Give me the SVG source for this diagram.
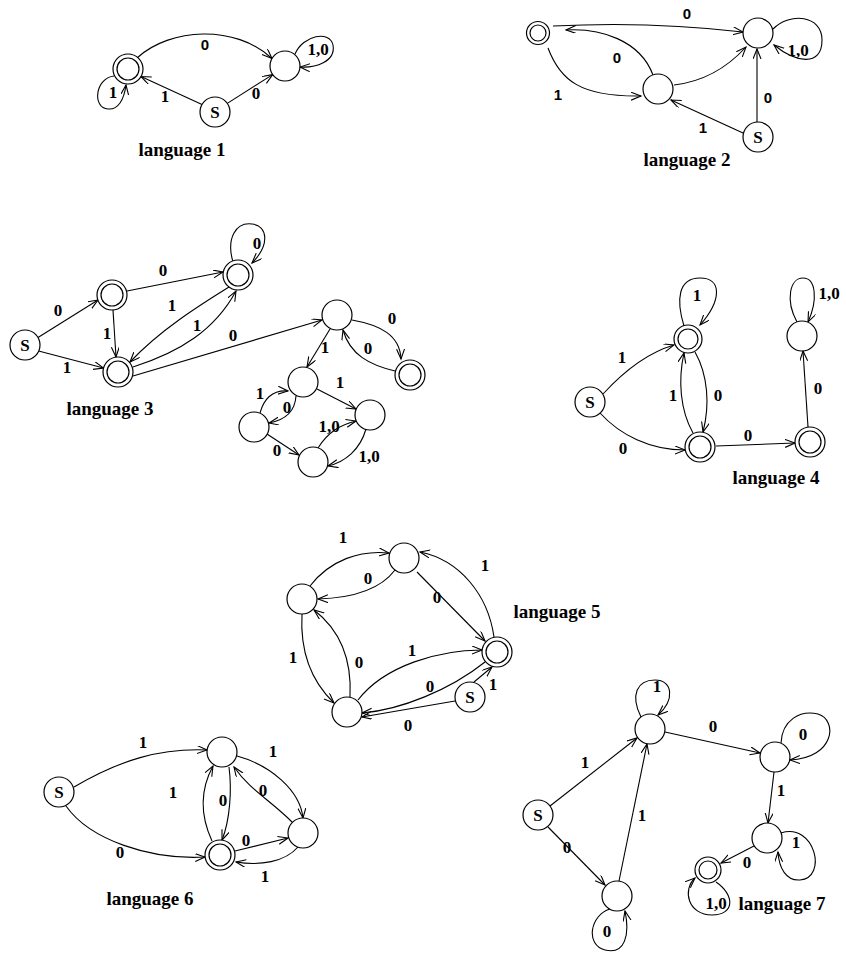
<svg xmlns="http://www.w3.org/2000/svg" width="846" height="954" viewBox="0 0 846 954">
<style>
.n{fill:#fff;stroke:#000;stroke-width:1.2}
.e{fill:none;stroke:#000;stroke-width:1.1;marker-end:url(#ah)}
.t{font-family:"Liberation Serif","Times New Roman",serif;font-weight:bold;font-size:17px;text-anchor:middle;fill:#000}
.s{font-family:"Liberation Sans",Arial,sans-serif;font-weight:bold;font-size:15px;text-anchor:middle;fill:#000}
.ti{font-family:"Liberation Serif","Times New Roman",serif;font-weight:bold;font-size:19px;text-anchor:middle;fill:#000}
</style>
<defs>
<marker id="ah" markerWidth="12" markerHeight="10" refX="10" refY="4" orient="auto" markerUnits="userSpaceOnUse"><path d="M0,0 L10,4 L0,8" fill="none" stroke="#000" stroke-width="1.1"/></marker>
</defs>
<rect width="846" height="954" fill="#fff"/>

<!-- ===== language 1 ===== -->
<g id="edges1">
<path class="e" d="M137.6,57.5 C170,28 235,24 272,58.5"/>
<path class="e" d="M202,104.5 L141,76.5"/>
<path class="e" d="M227.3,103.4 L272.7,74.6"/>
<path class="e" d="M114,76 C95,78 92,108 108,109 C118,110 124,100 126,85"/>
<path class="e" d="M295,54 C303,35 330,30 333,45 C336,62 315,68 300,67"/>
<text class="s" x="205" y="50">0</text>
<text class="t" x="165" y="102">1</text>
<text class="t" x="256" y="99">0</text>
<text class="t" x="113" y="98">1</text>
<text class="t" x="318" y="55">1,0</text>
</g>
<g id="l1_acc"><circle class="n" cx="128" cy="69" r="15"/><circle class="n" cx="128" cy="69" r="11"/></g>
<g id="l1_sink"><circle class="n" cx="285" cy="66" r="15"/></g>
<g id="l1_start"><circle class="n" cx="215" cy="112" r="15"/><text class="t" x="215" y="118">S</text></g>
<text class="ti" x="182" y="156">language 1</text>

<!-- ===== language 2 ===== -->
<g id="edges2">
<path class="e" d="M553,26 Q650,21 743,32"/>
<path class="e" d="M653,75 C640,40 600,28 566,30"/>
<path class="e" d="M548,48 C560,80 580,97 641,96"/>
<path class="e" d="M674,85 C700,82 725,70 746,47"/>
<path class="e" d="M757,122 L757,49"/>
<path class="e" d="M743,133 L671,100"/>
<path class="e" d="M773,29 C790,12 822,15 822,40 C822,68 795,62 774,45"/>
<text class="s" x="687" y="19">0</text>
<text class="s" x="617" y="63">0</text>
<text class="s" x="558" y="100">1</text>
<text class="s" x="768" y="103">0</text>
<text class="s" x="703" y="133">1</text>
<text class="t" x="798" y="56">1,0</text>
</g>
<g id="l2_acc"><circle class="n" cx="538" cy="33" r="11.5"/><circle class="n" cx="538" cy="33" r="8"/></g>
<g id="l2_sink"><circle class="n" cx="758" cy="33" r="15"/></g>
<g id="l2_mid"><circle class="n" cx="658" cy="89" r="15"/></g>
<g id="l2_start"><circle class="n" cx="758" cy="137" r="15"/><text class="t" x="758" y="143">S</text></g>
<text class="ti" x="687" y="166">language 2</text>

<!-- ===== language 3 ===== -->
<g id="edges3">
<path class="e" d="M38,337.5 L98,300"/>
<path class="e" d="M38.6,351 L103.5,368"/>
<path class="e" d="M113,310 L116,357"/>
<path class="e" d="M127,291 L223,272"/>
<path class="e" d="M229,287 C200,305 160,330 130,362"/>
<path class="e" d="M133,367 C180,352 215,330 236,291"/>
<path class="e" d="M233,262 C226,238 236,222 252,224 C268,226 270,245 252,263"/>
<path class="e" d="M133,376 L322,320"/>
<path class="e" d="M352,320 C380,325 400,335 401,359"/>
<path class="e" d="M395,371 C370,365 350,355 343,330"/>
<path class="e" d="M330,329 L307,367"/>
<path class="e" d="M317,389 L356,409"/>
<path class="e" d="M260,413 C265,395 275,390 288,391"/>
<path class="e" d="M296,396 C295,412 285,420 269,423"/>
<path class="e" d="M267,434 L299,455"/>
<path class="e" d="M318,448 C328,432 340,425 356,421"/>
<path class="e" d="M366,429 C360,450 345,462 328,466"/>
<text class="t" x="58" y="316">0</text>
<text class="t" x="67" y="373">1</text>
<text class="t" x="107" y="339">1</text>
<text class="t" x="163" y="276">0</text>
<text class="t" x="172" y="311">1</text>
<text class="t" x="197" y="331">1</text>
<text class="t" x="257" y="249">0</text>
<text class="t" x="233" y="341">0</text>
<text class="t" x="392" y="324">0</text>
<text class="t" x="368" y="354">0</text>
<text class="t" x="325" y="353">1</text>
<text class="t" x="340" y="388">1</text>
<text class="t" x="260" y="399">1</text>
<text class="t" x="287" y="413">0</text>
<text class="t" x="277" y="456">0</text>
<text class="t" x="329" y="432">1,0</text>
<text class="t" x="369" y="462">1,0</text>
</g>
<g id="l3_start"><circle class="n" cx="25" cy="345" r="15"/><text class="t" x="25" y="351">S</text></g>
<g id="l3_a"><circle class="n" cx="112" cy="295" r="15"/><circle class="n" cx="112" cy="295" r="11"/></g>
<g id="l3_b"><circle class="n" cx="118" cy="372" r="15"/><circle class="n" cx="118" cy="372" r="11"/></g>
<g id="l3_c"><circle class="n" cx="238" cy="275" r="15"/><circle class="n" cx="238" cy="275" r="11"/></g>
<g id="l3_d"><circle class="n" cx="337" cy="315" r="15"/></g>
<g id="l3_e"><circle class="n" cx="410" cy="375" r="15"/><circle class="n" cx="410" cy="375" r="11"/></g>
<g id="l3_f"><circle class="n" cx="303" cy="382" r="15"/></g>
<g id="l3_g"><circle class="n" cx="370" cy="415" r="15"/></g>
<g id="l3_h"><circle class="n" cx="254" cy="427" r="15"/></g>
<g id="l3_i"><circle class="n" cx="313" cy="462" r="15"/></g>
<text class="ti" x="110" y="415">language 3</text>

<!-- ===== language 4 ===== -->
<g id="edges4">
<path class="e" d="M603,394 C625,370 650,352 674,345"/>
<path class="e" d="M600,413 C620,435 650,450 685,450"/>
<path class="e" d="M684,326 C676,300 678,278 700,278 C722,278 722,300 700,325"/>
<path class="e" d="M695,352 C708,375 710,405 703,432"/>
<path class="e" d="M693,433 C680,410 678,380 684,353"/>
<path class="e" d="M716,446 L795,443"/>
<path class="e" d="M808,427 L803,351"/>
<path class="e" d="M797,322 C785,300 790,278 803,278 C816,278 818,300 808,322"/>
<text class="t" x="622" y="363">1</text>
<text class="t" x="623" y="454">0</text>
<text class="t" x="697" y="301">1</text>
<text class="t" x="718" y="401">0</text>
<text class="t" x="673" y="401">1</text>
<text class="t" x="748" y="441">0</text>
<text class="t" x="818" y="394">0</text>
<text class="t" x="829" y="299">1,0</text>
</g>
<g id="l4_start"><circle class="n" cx="590" cy="402" r="15"/><text class="t" x="590" y="408">S</text></g>
<g id="l4_a"><circle class="n" cx="688" cy="339" r="14"/><circle class="n" cx="688" cy="339" r="10"/></g>
<g id="l4_b"><circle class="n" cx="700" cy="447" r="15"/><circle class="n" cx="700" cy="447" r="11"/></g>
<g id="l4_c"><circle class="n" cx="810" cy="442" r="15"/><circle class="n" cx="810" cy="442" r="11"/></g>
<g id="l4_d"><circle class="n" cx="802" cy="336" r="15"/></g>
<text class="ti" x="776" y="484">language 4</text>

<!-- ===== language 5 ===== -->
<g id="edges5">
<path class="e" d="M310,586 C330,560 360,550 389,553"/>
<path class="e" d="M395,570 C380,590 350,598 318,599"/>
<path class="e" d="M494,637 C488,595 460,560 420,552"/>
<path class="e" d="M417,572 L485,641"/>
<path class="e" d="M302,614 C300,650 310,680 334,703"/>
<path class="e" d="M350,697 C352,660 340,630 314,610"/>
<path class="e" d="M358,700 C385,665 440,650 482,650"/>
<path class="e" d="M485,662 C450,690 400,710 362,713"/>
<path class="e" d="M474,682 L492,667"/>
<path class="e" d="M455,701 L362,717"/>
<text class="t" x="343" y="543">1</text>
<text class="t" x="368" y="584">0</text>
<text class="t" x="485" y="571">1</text>
<text class="t" x="437" y="603">0</text>
<text class="t" x="293" y="663">1</text>
<text class="t" x="359" y="668">0</text>
<text class="t" x="412" y="656">1</text>
<text class="t" x="430" y="692">0</text>
<text class="t" x="493" y="690">1</text>
<text class="t" x="408" y="731">0</text>
</g>
<g id="l5_t"><circle class="n" cx="404" cy="558" r="15"/></g>
<g id="l5_l"><circle class="n" cx="302" cy="599" r="15"/></g>
<g id="l5_a"><circle class="n" cx="497" cy="652" r="15"/><circle class="n" cx="497" cy="652" r="11"/></g>
<g id="l5_b"><circle class="n" cx="347" cy="712" r="15"/></g>
<g id="l5_start"><circle class="n" cx="470" cy="697" r="15"/><text class="t" x="470" y="703">S</text></g>
<text class="ti" x="557" y="618">language 5</text>

<!-- ===== language 6 ===== -->
<g id="edges6">
<path class="e" d="M74,787 C120,760 160,748 207,750"/>
<path class="e" d="M237,756 C270,765 300,790 303,818"/>
<path class="e" d="M212,841 C200,815 200,790 213,766"/>
<path class="e" d="M229,767 C232,790 230,820 222,840"/>
<path class="e" d="M292,822 C270,800 250,790 234,767"/>
<path class="e" d="M66,806 C90,840 150,860 205,857"/>
<path class="e" d="M235,851 L288,838"/>
<path class="e" d="M298,847 C285,862 260,866 236,862"/>
<text class="t" x="143" y="748">1</text>
<text class="t" x="273" y="757">1</text>
<text class="t" x="173" y="798">1</text>
<text class="t" x="223" y="806">0</text>
<text class="t" x="263" y="796">0</text>
<text class="t" x="120" y="858">0</text>
<text class="t" x="246" y="846">0</text>
<text class="t" x="265" y="882">1</text>
</g>
<g id="l6_start"><circle class="n" cx="59" cy="792" r="15"/><text class="t" x="59" y="798">S</text></g>
<g id="l6_t"><circle class="n" cx="222" cy="752" r="15"/></g>
<g id="l6_a"><circle class="n" cx="220" cy="855" r="15"/><circle class="n" cx="220" cy="855" r="11"/></g>
<g id="l6_r"><circle class="n" cx="303" cy="833" r="15"/></g>
<text class="ti" x="150" y="905">language 6</text>

<!-- ===== language 7 ===== -->
<g id="edges7">
<path class="e" d="M641,717 C630,695 637,680 655,680 C673,680 675,700 658,715"/>
<path class="e" d="M665,732 L760,753"/>
<path class="e" d="M781,743 C782,720 800,710 818,714 C838,720 835,758 790,760"/>
<path class="e" d="M774,772 L768,823"/>
<path class="e" d="M781,833 C815,822 828,878 800,880 C786,881 779,868 778,852"/>
<path class="e" d="M754,846 L721,863"/>
<path class="e" d="M716,882 C735,895 735,915 712,915 C688,915 682,890 695,878"/>
<path class="e" d="M550,806 L637,738"/>
<path class="e" d="M548,827 L605,885"/>
<path class="e" d="M619,881 L647,744"/>
<path class="e" d="M610,909 C590,915 585,945 605,950 C625,955 630,935 625,911"/>
<text class="t" x="657" y="692">1</text>
<text class="t" x="713" y="732">0</text>
<text class="t" x="803" y="740">0</text>
<text class="t" x="781" y="796">1</text>
<text class="t" x="796" y="848">1</text>
<text class="t" x="747" y="868">0</text>
<text class="t" x="716" y="909">1,0</text>
<text class="t" x="585" y="768">1</text>
<text class="t" x="567" y="853">0</text>
<text class="t" x="642" y="821">1</text>
<text class="t" x="607" y="937">0</text>
</g>
<g id="l7_t"><circle class="n" cx="650" cy="729" r="15"/></g>
<g id="l7_start"><circle class="n" cx="538" cy="815" r="15"/><text class="t" x="538" y="821">S</text></g>
<g id="l7_b"><circle class="n" cx="617" cy="896" r="15"/></g>
<g id="l7_r"><circle class="n" cx="775" cy="757" r="15"/></g>
<g id="l7_m"><circle class="n" cx="767" cy="838" r="15"/></g>
<g id="l7_acc"><circle class="n" cx="708" cy="870" r="13"/><circle class="n" cx="708" cy="870" r="9"/></g>
<text class="ti" x="782" y="910">language 7</text>
</svg>
